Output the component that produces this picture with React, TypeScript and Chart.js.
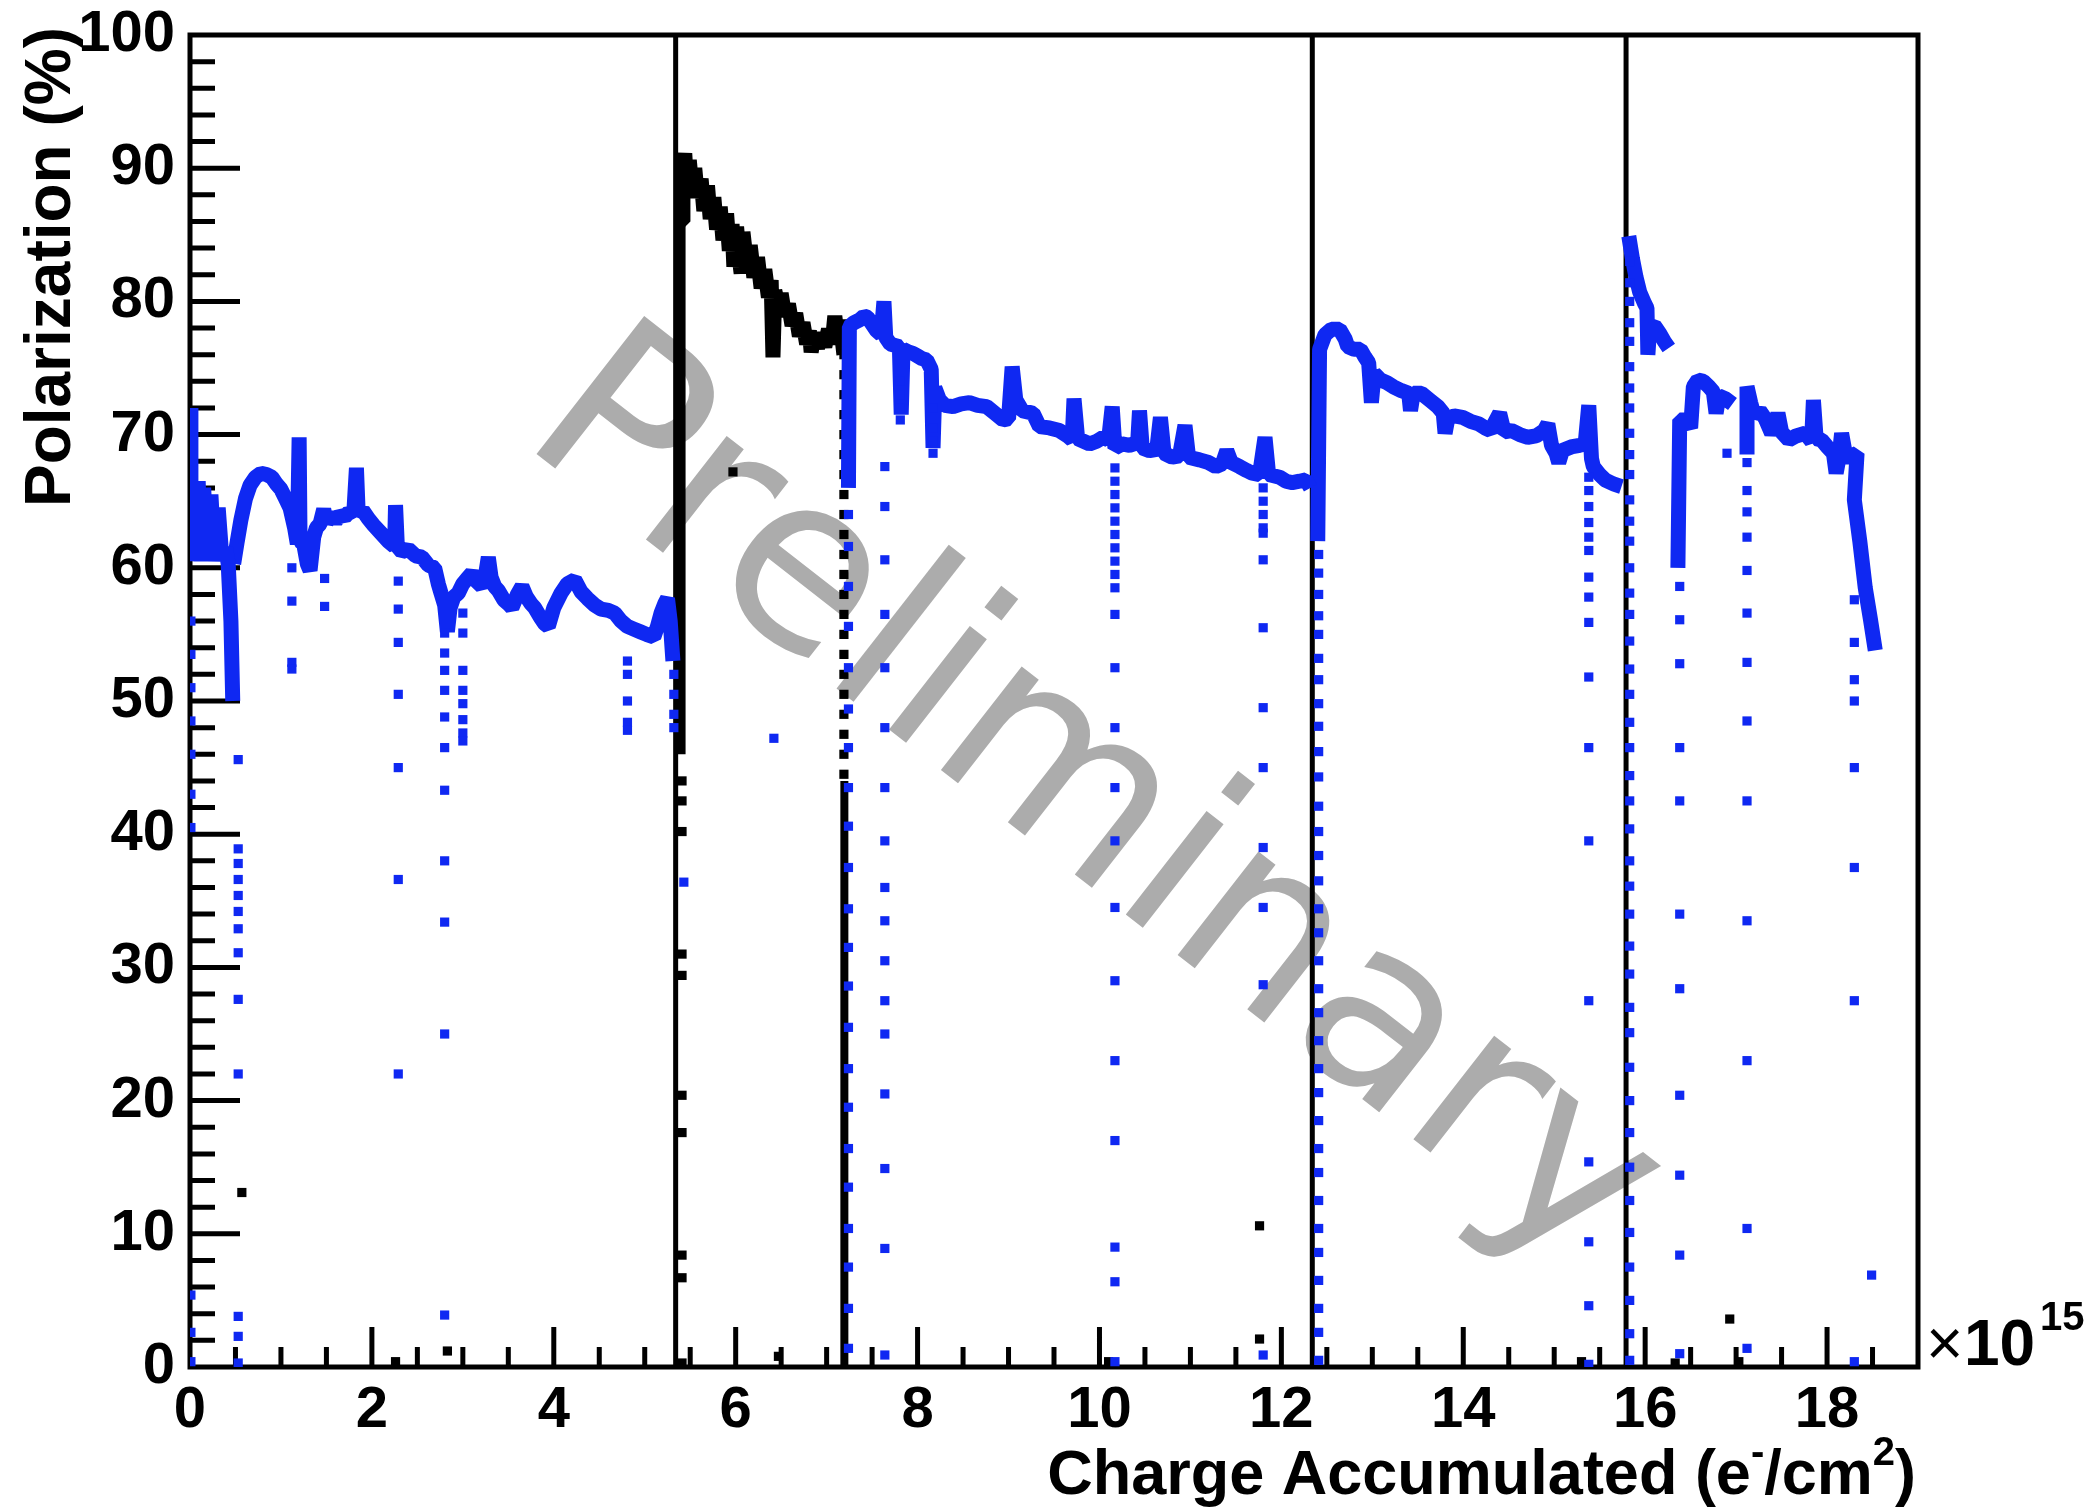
import React, { useEffect, useRef } from 'react';
import { Chart, registerables } from 'chart.js';

Chart.register(...registerables);

type Pt = [number, number];
type Col = [number, number[]];

const W = 2094;
const H = 1508;
const BLUE = '#0f28f2';
const BLACK = '#000000';
const GRAY = '#acacac';

const xTickValues = [0, 2, 4, 6, 8, 10, 12, 14, 16, 18];
const yTickValues = [0, 10, 20, 30, 40, 50, 60, 70, 80, 90, 100];
const dividerX = [5.34, 12.34, 15.79];

// ---- blue continuous traces ----
const blueSeg1a: Pt[] = [
  [0.005, 72], [0.01, 60.5], [0.03, 66], [0.06, 61], [0.09, 66.5], [0.12, 60.5], [0.15, 66],
  [0.19, 61], [0.23, 65.5], [0.27, 60.5], [0.31, 64.5], [0.35, 60.8], [0.39, 61.5], [0.42, 60.3],
  [0.45, 56], [0.47, 50],
];
const blueSeg1b: Pt[] = [
  [0.48, 60.3], [0.52, 62], [0.56, 63.6], [0.61, 65.2], [0.66, 66.2], [0.72, 66.8], [0.78, 67.1],
  [0.84, 67], [0.9, 66.8], [0.95, 66.3], [1.0, 65.9], [1.05, 65.2], [1.1, 64.5], [1.15, 63],
  [1.18, 61.8], [1.2, 69.8], [1.21, 62], [1.25, 61.8], [1.29, 60.3], [1.32, 59.8], [1.36, 62.3],
  [1.39, 63], [1.43, 63.3], [1.47, 64.4], [1.5, 63.4], [1.55, 64], [1.6, 63.5], [1.65, 64],
  [1.7, 63.8], [1.75, 64.2], [1.8, 64], [1.83, 67.5], [1.85, 64], [1.9, 64.3], [1.96, 63.7],
  [2.02, 63.2], [2.1, 62.6], [2.18, 62], [2.25, 61.6], [2.26, 64.7], [2.28, 61.6], [2.33, 61.2],
  [2.4, 61.4], [2.48, 60.9], [2.55, 60.8], [2.62, 60.2], [2.69, 60], [2.73, 58.8], [2.76, 58.1],
  [2.8, 57.2], [2.83, 55.2], [2.86, 57], [2.9, 57.8], [2.95, 58.1], [3.0, 58.8], [3.05, 59.2],
  [3.1, 59.6], [3.15, 59], [3.21, 58.6], [3.25, 59.5], [3.28, 60.8], [3.31, 59.3], [3.35, 58.6],
  [3.39, 58.3], [3.45, 57.6], [3.5, 57.3], [3.54, 57], [3.6, 58], [3.65, 58.6], [3.7, 57.8],
  [3.75, 57.3], [3.79, 57], [3.85, 56.3], [3.9, 55.8], [3.94, 55.6], [4.0, 57], [4.08, 58.1],
  [4.15, 58.8], [4.23, 59.1], [4.3, 58.2], [4.37, 57.7], [4.45, 57.2], [4.52, 56.9], [4.6, 56.8],
  [4.67, 56.6], [4.74, 56], [4.81, 55.6], [4.88, 55.4], [4.95, 55.2], [5.02, 55], [5.1, 54.8],
  [5.14, 55.6], [5.18, 56.6], [5.22, 57.3], [5.25, 57.7], [5.28, 56], [5.31, 53],
];
const blueSeg2: Pt[] = [
  [7.24, 66], [7.25, 78.1], [7.3, 78.4], [7.36, 78.6], [7.41, 78.9], [7.45, 78.8], [7.5, 78.3],
  [7.55, 77.8], [7.6, 77.5], [7.63, 80], [7.65, 77.3], [7.7, 76.8], [7.75, 76.7], [7.8, 76.6],
  [7.82, 71.5], [7.84, 76.4], [7.9, 76.2], [7.95, 76.1], [8.0, 75.9], [8.05, 75.7], [8.1, 75.6],
  [8.15, 74.9], [8.17, 69], [8.19, 73.5], [8.24, 72.6], [8.3, 72.2], [8.39, 72.1], [8.48, 72.3],
  [8.57, 72.4], [8.66, 72.2], [8.76, 72.1], [8.85, 71.6], [8.94, 71.1], [9.0, 71.2], [9.04, 75.1],
  [9.08, 72.6], [9.15, 71.8], [9.27, 71.6], [9.34, 70.6], [9.45, 70.5], [9.56, 70.3], [9.65, 69.9],
  [9.7, 69.6], [9.72, 72.7], [9.76, 69.7], [9.89, 69.3], [9.97, 69.5], [10.04, 69.8], [10.1, 69.6],
  [10.14, 72.1], [10.17, 69.0], [10.25, 69.3], [10.33, 69.2], [10.42, 69.4], [10.44, 71.8],
  [10.47, 69], [10.55, 68.8], [10.63, 68.9], [10.67, 71.3], [10.71, 68.6], [10.8, 68.3],
  [10.88, 68.4], [10.94, 70.7], [10.98, 68.3], [11.1, 68.1], [11.2, 67.9], [11.28, 67.6],
  [11.35, 67.8], [11.4, 68.8], [11.45, 67.9], [11.54, 67.6], [11.62, 67.3], [11.68, 67.1],
  [11.76, 67.0], [11.82, 69.8], [11.86, 67.0], [11.98, 66.8], [12.05, 66.5], [12.12, 66.4],
  [12.2, 66.5], [12.27, 66.6], [12.32, 66.0],
];
const blueSeg3: Pt[] = [
  [12.4, 62], [12.42, 76.4], [12.48, 77.5], [12.55, 77.9], [12.64, 77.9], [12.7, 77.2],
  [12.73, 76.6], [12.8, 76.4], [12.87, 76.4], [12.92, 75.8], [12.96, 75.4], [12.99, 72.4],
  [13.02, 74.6], [13.09, 74.1], [13.16, 73.9], [13.23, 73.6], [13.32, 73.3], [13.4, 73.1],
  [13.42, 71.8], [13.45, 73.1], [13.54, 73.1], [13.63, 72.6], [13.72, 72.1], [13.78, 71.6],
  [13.8, 70.1], [13.83, 71.2], [13.9, 71.4], [13.99, 71.3], [14.08, 71.0], [14.17, 70.8],
  [14.24, 70.5], [14.3, 70.3], [14.4, 71.6], [14.45, 70.2], [14.53, 70.3], [14.62, 70.0],
  [14.71, 69.8], [14.8, 69.9], [14.89, 70.3], [14.93, 70.8], [14.97, 69.2], [15.02, 68.6],
  [15.05, 67.9], [15.09, 68.8], [15.2, 69.1], [15.28, 69.2], [15.34, 69.3], [15.38, 72.2],
  [15.41, 68.2], [15.43, 67.6], [15.5, 67], [15.56, 66.6], [15.65, 66.3], [15.74, 66.1],
];
const blueSeg4: Pt[] = [
  [15.82, 84.9], [15.86, 83.2], [15.9, 81.8], [15.94, 80.7], [15.99, 79.9], [16.02, 79.5],
  [16.03, 76], [16.05, 78.1], [16.1, 78.2], [16.16, 77.6], [16.21, 77], [16.26, 76.5],
];
const blueSeg5: Pt[] = [
  [16.36, 60], [16.38, 71.1], [16.45, 71.1], [16.5, 70.5], [16.53, 73.6], [16.58, 74.1],
  [16.64, 74], [16.7, 73.6], [16.75, 73.2], [16.78, 71.6], [16.81, 72.9], [16.88, 72.7], [16.96, 72.3],
];
const blueSeg6: Pt[] = [
  [17.12, 68.5], [17.12, 73.6], [17.16, 72.4], [17.2, 71.4], [17.26, 71.8], [17.32, 71.2],
  [17.39, 70.1], [17.43, 70.6], [17.46, 71.6], [17.5, 70.2], [17.58, 69.6], [17.66, 69.9],
  [17.76, 70.1], [17.83, 69.5], [17.85, 72.6], [17.88, 69.7], [17.94, 69.6], [18.0, 69.1],
  [18.07, 68.6], [18.1, 67.1], [18.13, 68.2], [18.16, 70.1], [18.2, 68.6], [18.25, 68.1],
  [18.3, 68.5], [18.33, 68.6], [18.3, 65.1], [18.36, 62], [18.42, 58.5], [18.48, 56], [18.53, 53.8],
];

// ---- black continuous trace (upper / lower edges of the band) ----
const blackSeg: Pt[] = [
  [5.41, 86], [5.42, 90.2], [5.44, 91.1], [5.46, 88.8], [5.49, 90.6], [5.52, 88.4], [5.55, 90],
  [5.58, 87.8], [5.62, 89.2], [5.65, 86.8], [5.69, 88.7], [5.72, 86.2], [5.76, 87.8], [5.79, 85.4],
  [5.83, 87.1], [5.86, 84.6], [5.9, 86.6], [5.93, 83.8], [5.96, 85.8], [5.98, 82.6], [6.01, 85.6],
  [6.04, 83.2], [6.06, 82.1], [6.08, 85.2], [6.12, 82.8], [6.16, 84.2], [6.2, 81.8], [6.24, 83.3],
  [6.28, 81], [6.32, 82.4], [6.36, 80.3], [6.39, 81.6], [6.41, 75.8], [6.43, 80.8], [6.47, 79.6],
  [6.5, 80.6], [6.54, 78.9], [6.58, 79.8], [6.62, 78.2], [6.66, 79.1], [6.7, 77.4], [6.74, 78.4],
  [6.78, 76.8], [6.81, 77.8], [6.83, 76.2], [6.86, 77.4], [6.9, 76.5], [6.94, 77.6], [6.98, 76.6],
  [7.02, 77.9], [7.06, 76.8], [7.09, 78.9], [7.12, 77.2], [7.15, 78.6], [7.17, 77.2], [7.19, 76],
];
const blackSolidDrops: Pt[][] = [
  [[5.405, 90], [5.405, 46]],
  [[7.195, 44], [7.195, 0]],
];

// ---- isolated dropout points ----
const blueDropCols: Col[] = [
  [0.01, [56, 53.5, 51, 48.5, 46, 43, 40.5, 5.4, 2.6, 0.4]],
  [0.53, [45.6, 38.9, 37.8, 36.6, 35.4, 34.2, 32.9, 31.1, 27.6, 22, 3.8, 2.3, 0.3]],
  [1.12, [60, 57.5, 52.9, 52.4]],
  [1.48, [59.2, 57.1]],
  [2.29, [59, 56.9, 54.4, 50.5, 45, 36.6, 22]],
  [2.8, [55.1, 53.6, 52.3, 50.8, 48.8, 46.5, 43.3, 38, 33.4, 25, 3.9]],
  [3.0, [56.6, 55.1, 52.3, 50.8, 49.8, 48.6, 47.6, 47]],
  [4.81, [53, 52, 50, 48.4, 47.8]],
  [5.32, [52, 50.5, 49, 48]],
  [5.43, [36.4]],
  [6.42, [47.2]],
  [7.24, [64, 61.6, 58.6, 55.6, 52.5, 49.4, 46.5, 43.5, 40.6, 37.5, 34.4, 31.5, 28.6, 25.5, 22.4, 19.5, 16.4, 13.5, 10.4, 7.5, 4.4, 1.4]],
  [7.64, [67.6, 64.6, 60.6, 56.5, 52.5, 48, 43.5, 39.5, 36, 33.5, 30.5, 27.5, 25, 20.5, 14.9, 8.9, 0.9]],
  [7.81, [74, 73, 72, 71.1]],
  [8.17, [72, 70.5, 69.5, 68.6]],
  [10.17, [67.5, 66.5, 65.5, 64.5, 63.5, 62.5, 61.5, 60.5, 59.5, 58.5, 56.5, 52.5, 48, 43.5, 39.5, 34.5, 29, 23, 17, 9, 6.4, 0.4]],
  [11.8, [66, 65, 64, 63, 62.6, 60.6, 55.5, 49.5, 45, 39, 34.5, 28.7, 0.9]],
  [12.41, [61, 59.6, 58, 56.4, 55, 53.2, 51.6, 49.8, 48.1, 46.2, 44.3, 42.1, 40.2, 38.4, 36.5, 34.4, 32.6, 30.5, 28.4, 26.6, 24.5, 22.4, 20.6, 18.5, 16.4, 14.6, 12.5, 10.4, 8.6, 6.5, 4.4, 2.6, 0.5]],
  [15.38, [66.8, 65.8, 64.6, 63.4, 62.3, 61.3, 59.3, 57.8, 55.9, 51.8, 46.5, 39.5, 27.5, 15.4, 9.4, 4.6, 0.2]],
  [15.83, [83, 81.4, 80, 78.4, 77, 75.1, 73.5, 72, 70.1, 68.5, 67, 65.1, 63.5, 62, 60, 58.1, 56.5, 54.5, 52.4, 50.5, 48.4, 46.5, 44.4, 42.5, 40.4, 38, 36.1, 34, 31.6, 29.5, 27, 25.1, 22.5, 20, 17.6, 15, 12.5, 10.1, 7.5, 5, 2.5, 0.5]],
  [16.38, [58.6, 56.1, 52.8, 46.5, 42.5, 34, 28.4, 20.4, 14.4, 8.4, 1]],
  [16.9, [68.6]],
  [17.12, [67.9, 65.8, 64.2, 62.3, 59.8, 56.6, 52.9, 48.5, 42.5, 33.5, 23, 10.4, 1.4]],
  [18.3, [57.6, 54.4, 51.6, 50, 45, 37.5, 27.5, 0.4]],
  [18.49, [6.9]],
];
const blackDropCols: Col[] = [
  [5.41, [44, 42.5, 40.2, 31, 29.4, 20.4, 17.6, 8.4, 6.7, 0.3]],
  [7.19, [76, 74.5, 73, 71.5, 70, 68.5, 67, 65.5, 64, 62.5, 61, 59.5, 58, 56.5, 55, 53.5, 52, 50.5, 49, 47.5, 46, 44.5]],
  [5.97, [67.2]],
  [6.47, [0.8]],
  [0.57, [13.1]],
  [2.26, [0.4]],
  [2.83, [1.2]],
  [10.1, [0.4]],
  [11.76, [10.6, 2.1]],
  [15.3, [0.4]],
  [16.33, [0.3]],
  [16.93, [3.6]],
  [17.03, [0.4]],
];

const FONT = '"Liberation Sans", Arial, Helvetica, sans-serif';

const trace = (seg: Pt[], color: string, width: number) => ({
  data: seg.map(([x, y]) => ({ x, y })),
  showLine: true,
  borderColor: color,
  backgroundColor: color,
  borderWidth: width,
  pointRadius: 0,
  pointHoverRadius: 0,
  tension: 0,
  fill: false,
  borderJoinStyle: 'bevel',
  borderCapStyle: 'butt',
});

const dots = (cols: Col[], color: string) => ({
  data: cols.flatMap(([x, ys]) => ys.map((y) => ({ x, y }))),
  showLine: false,
  pointStyle: 'rect',
  pointRadius: 6.5,
  pointHoverRadius: 6.5,
  pointBorderWidth: 0,
  borderWidth: 0,
  backgroundColor: color,
  borderColor: color,
});

const watermarkPlugin = {
  id: 'watermark',
  beforeDatasetsDraw(chart: any) {
    const { ctx, scales } = chart;
    const cx = scales.x.getPixelForValue(9.9);
    const cy = scales.y.getPixelForValue(42.0);
    ctx.save();
    ctx.translate(cx, cy);
    ctx.rotate((38 * Math.PI) / 180);
    ctx.font = '240px "DejaVu Sans", sans-serif';
    ctx.fillStyle = GRAY;
    ctx.textAlign = 'center';
    ctx.textBaseline = 'middle';
    ctx.fillText('Preliminary', 0, 0);
    ctx.restore();
  },
};

const framePlugin = {
  id: 'frame',
  beforeDatasetsDraw(chart: any) {
    const { ctx, chartArea, scales } = chart;
    const { left, right, top, bottom } = chartArea;
    ctx.save();
    ctx.strokeStyle = BLACK;
    ctx.lineWidth = 5;
    ctx.lineCap = 'butt';
    ctx.beginPath();
    for (let v = 2; v < 100; v += 2) {
      const py = scales.y.getPixelForValue(v);
      const len = v % 10 === 0 ? 50 : 25;
      ctx.moveTo(left, py);
      ctx.lineTo(left + len, py);
    }
    for (let i = 1; i < 38; i++) {
      const v = i * 0.5;
      const px = scales.x.getPixelForValue(v);
      const len = i % 4 === 0 ? 40 : 20;
      ctx.moveTo(px, bottom);
      ctx.lineTo(px, bottom - len);
    }
    ctx.stroke();
    ctx.strokeRect(left, top, right - left, bottom - top);
    ctx.restore();
  },
};

const titlePlugin = {
  id: 'titles',
  afterDraw(chart: any) {
    const { ctx, chartArea } = chart;
    ctx.save();
    ctx.fillStyle = BLACK;
    ctx.textBaseline = 'alphabetic';

    // y-axis title
    ctx.save();
    ctx.translate(70, chartArea.top - 8);
    ctx.rotate(-Math.PI / 2);
    ctx.font = `bold 64px ${FONT}`;
    ctx.textAlign = 'right';
    ctx.fillText('Polarization (%)', 0, 0);
    ctx.restore();

    // x-axis title with superscripts
    const main = `bold 63px ${FONT}`;
    const sup = `bold 40px ${FONT}`;
    const pieces: [string, boolean][] = [
      ['Charge Accumulated (e', false],
      ['-', true],
      ['/cm', false],
      ['2', true],
      [')', false],
    ];
    let total = 0;
    for (const [t, s] of pieces) {
      ctx.font = s ? sup : main;
      total += ctx.measureText(t).width;
    }
    let x = chartArea.right - 2 - total;
    const base = 1494;
    ctx.textAlign = 'left';
    for (const [t, s] of pieces) {
      ctx.font = s ? sup : main;
      ctx.fillText(t, x, s ? base - 29 : base);
      x += ctx.measureText(t).width;
    }

    // x10^15 exponent
    ctx.font = `64px ${FONT}`;
    ctx.fillText('\u00d7', chartArea.right + 8, chartArea.bottom - 2);
    ctx.font = `bold 64px ${FONT}`;
    ctx.fillText('10', chartArea.right + 46, chartArea.bottom - 2);
    ctx.font = `bold 40px ${FONT}`;
    ctx.fillText('15', chartArea.right + 122, chartArea.bottom - 37);
    ctx.restore();
  },
};

export default function App() {
  const ref = useRef<HTMLCanvasElement | null>(null);

  useEffect(() => {
    const canvas = ref.current;
    if (!canvas) return;
    const datasets: any[] = [
      dots(blueDropCols, BLUE),
      trace(blueSeg1a, BLUE, 15),
      trace(blueSeg1b, BLUE, 15),
      trace(blueSeg2, BLUE, 15),
      trace(blueSeg3, BLUE, 15),
      trace(blueSeg4, BLUE, 15),
      trace(blueSeg5, BLUE, 15),
      trace(blueSeg6, BLUE, 15),
      dots(blackDropCols, BLACK),
      trace(blackSeg, BLACK, 15),
      ...blackSolidDrops.map((s) => trace(s, BLACK, 8)),
      ...dividerX.map((dx) => trace([[dx, 0], [dx, 100]], BLACK, 5)),
    ];
    const tickFont = { family: FONT, size: 58, weight: 'bold' as const };
    const chart = new Chart(canvas, {
      type: 'scatter',
      data: { datasets },
      options: {
        responsive: false,
        maintainAspectRatio: false,
        animation: false,
        devicePixelRatio: 1,
        events: [],
        layout: { padding: { left: 0, top: 35, right: W - 1918, bottom: 0 } },
        plugins: {
          legend: { display: false },
          tooltip: { enabled: false },
          title: { display: false },
        },
        scales: {
          x: {
            type: 'linear',
            min: 0,
            max: 19,
            grid: { display: false, drawTicks: false },
            border: { display: false },
            afterBuildTicks: (scale: any) => {
              scale.ticks = xTickValues.map((v) => ({ value: v }));
            },
            afterFit: (scale: any) => {
              scale.height = H - 1367;
              scale.paddingLeft = 0;
              scale.paddingRight = 0;
            },
            ticks: {
              font: tickFont,
              color: BLACK,
              padding: 9,
              maxRotation: 0,
              autoSkip: false,
              callback: (v: any) => String(v),
            },
          },
          y: {
            type: 'linear',
            min: 0,
            max: 100,
            grid: { display: false, drawTicks: false },
            border: { display: false },
            afterBuildTicks: (scale: any) => {
              scale.ticks = yTickValues.map((v) => ({ value: v }));
            },
            afterFit: (scale: any) => {
              scale.width = 190;
              scale.paddingTop = 0;
              scale.paddingBottom = 0;
            },
            ticks: {
              font: tickFont,
              color: BLACK,
              padding: 15,
              autoSkip: false,
              callback: (v: any) => String(v),
            },
          },
        },
      } as any,
      plugins: [watermarkPlugin, framePlugin, titlePlugin],
    });
    return () => chart.destroy();
  }, []);

  return (
    <div style={{ position: 'fixed', left: 0, top: 0, width: W, height: H, background: '#ffffff' }}>
      <canvas ref={ref} width={W} height={H} style={{ width: W, height: H, display: 'block' }} />
    </div>
  );
}
